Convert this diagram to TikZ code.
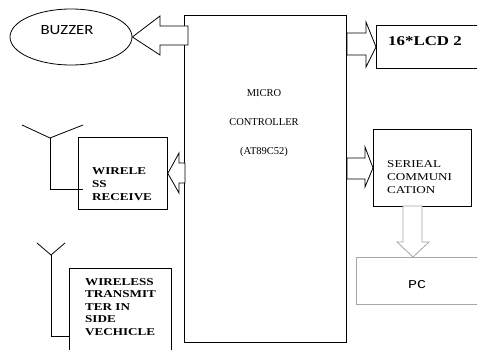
\documentclass[tikz,border=0pt]{standalone}
\usepackage{fontspec}
\setmainfont{Liberation Serif}
\newfontfamily\boxfont[FakeStretch=1.25]{Liberation Serif}
\newfontfamily\buzfont[FakeStretch=1.2]{Carlito}
\newfontfamily\pcfont[FakeStretch=1.25]{Liberation Mono}
\usetikzlibrary{shapes.geometric}

\tikzset{
    box/.style={draw, line width=0.8pt, inner sep=0pt},
    fatarrow/.style={draw, line width=0.8pt, fill=white, line join=miter},
    boldnote/.style={font=\boxfont\bfseries\fontsize{10.5pt}{12.5pt}\selectfont, align=left, inner sep=0pt, anchor=north west},
    plainnote/.style={font=\boxfont\fontsize{10.5pt}{13pt}\selectfont, align=left, inner sep=0pt, anchor=north west}
}

\begin{document}
\begin{tikzpicture}[x=1pt, y=1pt]
    \useasboundingbox (0,0) rectangle (477,350);
    \clip (0,0) rectangle (477,350);

    % Micro controller
    \node[box, line width=1pt, minimum width=162pt, minimum height=327pt] (micro) at (265,170.5) {};
    \node[font=\fontsize{10.5pt}{29pt}\selectfont, align=center] (microtext) at (264,227) {MICRO\\CONTROLLER\\(AT89C52)};

    % Buzzer
    \node[ellipse, draw, line width=0.8pt, minimum width=122pt, minimum height=56pt, inner sep=0pt] (buzzer) at (71,313) {};
    \node[font=\buzfont\fontsize{14pt}{16pt}\selectfont] (buzzertext) at ([shift={(-4pt,7pt)}]buzzer.center) {BUZZER};
    \draw[fatarrow] (buzzer.east) -- (160,334) -- (160,324) -- (188,324) -- (188,305) -- (160,305) -- (160,295) -- cycle;

    % LCD
    \node[box, anchor=north west, minimum width=110pt, minimum height=43pt] (lcd) at (376,325) {};
    \node[boldnote, font=\boxfont\bfseries\fontsize{13.5pt}{15pt}\selectfont] (lcdtext) at ([shift={(12pt,-11pt)}]lcd.north west) {16*LCD 2};
    \draw[fatarrow] (lcd.west) -- (366,328) -- (366,317) -- (347,317) -- (347,295) -- (366,295) -- (366,283) -- cycle;

    % Wireless receiver
    \node[box, anchor=north west, minimum width=89pt, minimum height=72pt] (rx) at (78,213) {};
    \node[boldnote, font=\boxfont\bfseries\fontsize{10.5pt}{13pt}\selectfont] (rxtext) at ([shift={(14pt,-30pt)}]rx.north west) {WIRELE\\SS\\RECEIVE};
    \draw[fatarrow] (rx.east) -- (179,197) -- (179,187) -- (185,187) -- (185,167) -- (179,167) -- (179,157) -- cycle;
    % antenna
    \coordinate (rxant) at (50,212);
    \draw[line width=0.8pt] (22,225) -- (rxant) -- (83,225);
    \draw[line width=0.8pt] (rxant) -- (50,161) -- (83,161);

    % Serial communication
    \node[box, anchor=north west, minimum width=98pt, minimum height=77pt] (serial) at (373,221) {};
    \node[plainnote] (serialtext) at ([shift={(14pt,-31pt)}]serial.north west) {SERIEAL\\COMMUNI\\CATION};
    \draw[fatarrow] (serial.west) -- (365,203) -- (365,192) -- (347,192) -- (347,171) -- (365,171) -- (365,163) -- cycle;

    % PC
    \node[box, draw=gray!70, anchor=north west, minimum width=130pt, minimum height=47pt] (pc) at (356,93) {};
    \node[font=\pcfont\fontsize{12pt}{14pt}\selectfont] (pctext) at (417,65) {PC};
    \draw[fatarrow, draw=gray!70] ([xshift=57pt]pc.north west) -- (429,108) -- (422,108) -- (422,144) -- (403,144) -- (403,108) -- (397,108) -- cycle;

    % Wireless transmitter
    \node[box, anchor=north west, minimum width=102pt, minimum height=95pt] (tx) at (69,82) {};
    \node[boldnote] (txtext) at ([shift={(16pt,-10pt)}]tx.north west) {WIRELESS\\TRANSMIT\\TER IN\\SIDE\\VECHICLE};
    % antenna
    \coordinate (txant) at (51,95);
    \draw[line width=0.8pt] (37,107) -- (txant) -- (65,107);
    \draw[line width=0.8pt] (txant) -- (51,14) -- (tx.west |- 0,14);
\end{tikzpicture}
\end{document}
